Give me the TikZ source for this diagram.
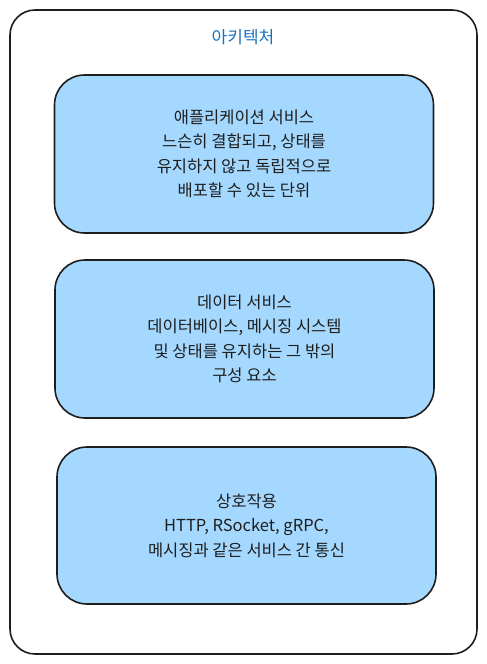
\documentclass[tikz,border=0pt]{standalone}
\usepackage{fontspec}
\setmainfont{Noto Sans CJK KR}
\usetikzlibrary{positioning}
\definecolor{boxblue}{HTML}{A5D8FF}
\definecolor{titleblue}{HTML}{1971C2}
\definecolor{inkgray}{HTML}{1E1E1E}
\tikzset{
frame/.style={
  draw=inkgray,
  line width=1.6pt,
  rounded corners=25pt
},
servicebox/.style={
  frame,
  rectangle,
  fill=boxblue,
  rounded corners=30pt,
  minimum width=379pt,
  minimum height=158pt,
  align=center,
  text=inkgray,
  font=\fontsize{16.5}{24.5}\selectfont
},
archtitle/.style={text=titleblue,font=\fontsize{17}{20}\selectfont}
}
\begin{document}
\begin{tikzpicture}[x=1pt,y=-1pt]
\useasboundingbox (0,0) rectangle (487,664);
% the outer frame
\draw[frame] (10,10) rectangle (477,654);
\node[archtitle] (arch) at (243,37) {아키텍처};
% the boxes
\node[servicebox] (app) at (244,154)
  {애플리케이션 서비스\\ 느슨히 결합되고, 상태를\\ 유지하지 않고 독립적으로\\ 배포할 수 있는 단위};
\node[servicebox] (data) at (244.5,339)
  {데이터 서비스\\ 데이터베이스, 메시징 시스템\\ 및 상태를 유지하는 그 밖의\\ 구성 요소};
\node[servicebox,minimum height=157pt] (inter) at (246.5,525.5)
  {상호작용\\ HTTP, RSocket, gRPC,\\ 메시징과 같은 서비스 간 통신};
\end{tikzpicture}
\end{document}
